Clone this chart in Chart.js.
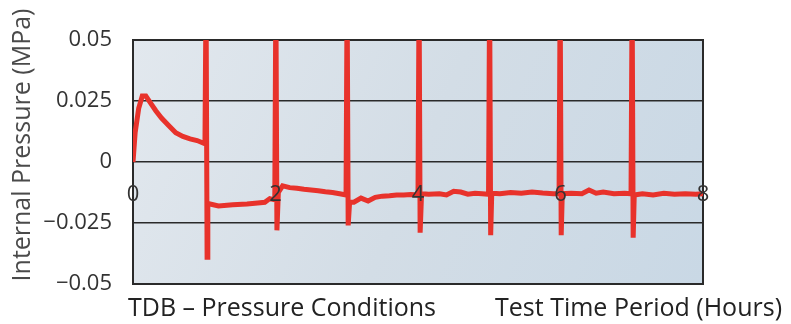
<!DOCTYPE html>
<html>
<head>
<meta charset="utf-8">
<script src="https://cdn.jsdelivr.net/npm/chart.js@4"></script>
<style>
  html, body { margin: 0; padding: 0; background: #fff; }
  #wrap { width: 791px; height: 324px; }
</style>
</head>
<body>
<div id="wrap"><canvas id="chart1" width="791" height="324"></canvas></div>
<script>
// test time (hours) and internal pressure (MPa)
var hours = [
  0, 0.03, 0.08, 0.13, 0.18, 0.25, 0.32, 0.4, 0.5, 0.6, 0.7, 0.8, 0.9, 1.01,
  1.025, 1.04, 1.05, 1.2, 1.4, 1.6, 1.75, 1.85, 1.92, 1.99,
  2.005, 2.02, 2.04, 2.1, 2.2, 2.3, 2.4, 2.5, 2.6, 2.7, 2.8, 2.9, 2.99,
  3.005, 3.02, 3.04, 3.1, 3.2, 3.3, 3.4, 3.5, 3.6, 3.7, 3.8, 3.9, 4.0,
  4.015, 4.03, 4.05, 4.15, 4.3, 4.4, 4.5, 4.6, 4.7, 4.8, 4.9, 4.99,
  5.005, 5.02, 5.035, 5.15, 5.3, 5.45, 5.6, 5.75, 5.9, 5.98,
  5.995, 6.01, 6.025, 6.15, 6.3, 6.4, 6.5, 6.6, 6.75, 6.9, 6.99,
  7.005, 7.02, 7.035, 7.15, 7.3, 7.45, 7.6, 7.75, 7.9, 8.0
];
var pressure = [
  0, 0.012, 0.022, 0.027, 0.027, 0.024, 0.021, 0.018, 0.015, 0.012, 0.0105, 0.0095, 0.0088, 0.0075,
  0.07, -0.039, -0.017, -0.018, -0.0175, -0.0172, -0.0168, -0.0165, -0.015, -0.0155,
  0.07, -0.028, -0.0125, -0.0098, -0.0105, -0.0108, -0.0112, -0.0115, -0.0118, -0.0122, -0.0125, -0.013, -0.0135,
  0.07, -0.026, -0.0165, -0.0165, -0.0148, -0.016, -0.0145, -0.014, -0.0138, -0.0135, -0.0135, -0.0133, -0.0135,
  0.07, -0.029, -0.013, -0.0132, -0.013, -0.0135, -0.012, -0.0123, -0.0132, -0.0128, -0.013, -0.0132,
  0.07, -0.030, -0.0128, -0.013, -0.0125, -0.0128, -0.0123, -0.0127, -0.013, -0.013,
  0.07, -0.030, -0.013, -0.0128, -0.013, -0.0115, -0.0128, -0.0123, -0.013, -0.0128, -0.013,
  0.07, -0.031, -0.0135, -0.013, -0.0135, -0.0128, -0.0132, -0.013, -0.0132, -0.013
];
var yTickLabels = ['\u22120.05', '\u22120.025', '0', '0.025', '0.05'];
var xTickLabels = ['0', '2', '4', '6', '8'];

var points = hours.map(function(h, i) { return { x: h, y: pressure[i] }; });

// background, frame and the free texts round the plot
var decor = {
  id: 'decor',
  beforeDraw: function(chart) {
    var ctx = chart.ctx, a = chart.chartArea;
    ctx.save();
    ctx.fillStyle = '#fff';
    ctx.fillRect(0, 0, chart.width, chart.height);
    var g = ctx.createLinearGradient(a.left, a.top, a.right, a.bottom);
    g.addColorStop(0, '#e2e8ee');
    g.addColorStop(0.5, '#d3dde6');
    g.addColorStop(1, '#c9d8e5');
    ctx.fillStyle = g;
    ctx.fillRect(a.left, a.top, a.right - a.left, a.bottom - a.top);
    ctx.restore();
  },
  beforeDatasetsDraw: function(chart) {
    var ctx = chart.ctx, a = chart.chartArea;
    ctx.save();
    ctx.strokeStyle = '#2a2a2a';
    ctx.lineWidth = 2;
    ctx.strokeRect(a.left, a.top, a.right - a.left, a.bottom - a.top);
    ctx.restore();
  },
  afterDraw: function(chart) {
    var ctx = chart.ctx;
    ctx.save();
    ctx.fillStyle = '#4a4a4a';
    ctx.font = '25px "Open Sans"';
    ctx.textBaseline = 'middle';
    ctx.textAlign = 'center';
    ctx.translate(23, 145);
    ctx.rotate(-Math.PI / 2);
    ctx.fillText('Internal Pressure (MPa)', 0, 0);
    ctx.restore();

    ctx.save();
    ctx.fillStyle = '#222';
    ctx.font = '25px "Open Sans"';
    ctx.textBaseline = 'alphabetic';
    ctx.textAlign = 'left';
    ctx.fillText('TDB \u2013 Pressure Conditions', 128, 316);
    ctx.textAlign = 'right';
    ctx.fillText('Test Time Period (Hours)', 782, 316);
    ctx.restore();
  }
};

var ctx = document.getElementById('chart1').getContext('2d');
var myChart = new Chart(ctx, {
  type: 'line',
  data: {
    datasets: [{
      data: points,
      borderColor: '#e8322b',
      borderWidth: 5,
      pointRadius: 0,
      tension: 0,
      fill: false
    }]
  },
  options: {
    responsive: false,
    animation: false,
    layout: { padding: { left: 0, top: 40, right: 88, bottom: 40 } },
    plugins: {
      legend: { display: false },
      tooltip: { enabled: false }
    },
    scales: {
      x: {
        type: 'linear',
        min: 0,
        max: 8,
        position: { y: 0 },
        grid: { display: false },
        border: { display: false },
        ticks: {
          z: 1,
          stepSize: 2,
          autoSkip: false,
          maxRotation: 0,
          padding: 12,
          color: '#333',
          font: { family: 'Open Sans', size: 22 },
          callback: function(v, i) { return xTickLabels[i]; }
        }
      },
      y: {
        min: -0.05,
        max: 0.05,
        afterFit: function(s) { s.width = 133; },
        grid: { color: '#2a2a2a', lineWidth: 1.5, drawTicks: false },
        border: { display: false },
        ticks: {
          stepSize: 0.025,
          padding: 21,
          color: '#333',
          font: { family: 'Open Sans', size: 22 },
          callback: function(v, i) { return yTickLabels[i]; }
        }
      }
    }
  },
  plugins: [decor]
});
</script>
</body>
</html>
